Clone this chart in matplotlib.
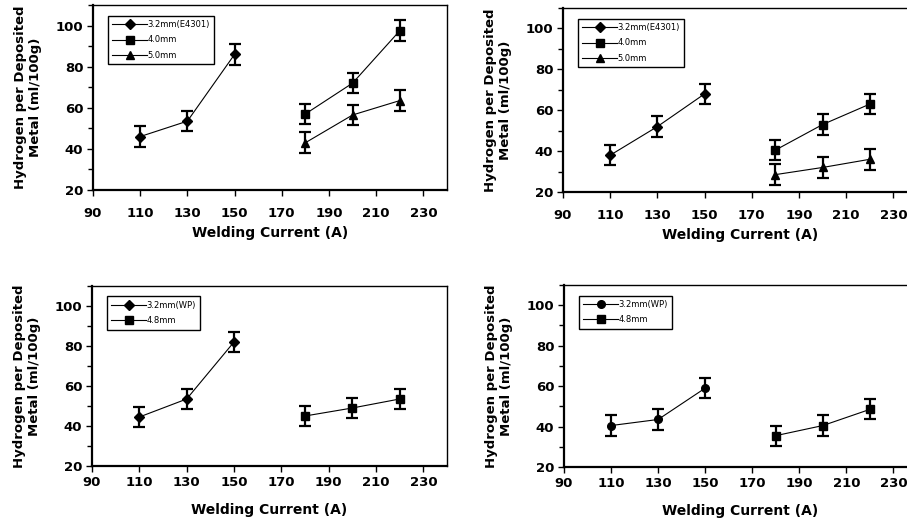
import matplotlib.pyplot as plt
from matplotlib.ticker import MultipleLocator

plt.rcParams['font.family'] = ['DejaVu Sans']

# valores
corriente_a = [110, 130, 150]
corriente_b = [180, 200, 220]
error = 5

tl_32 = [46, 53.5, 86]
tl_40 = [57, 72, 97.5]
tl_50 = [43, 56.5, 63.5]

tr_32 = [38, 52, 68]
tr_40 = [40.5, 53, 63]
tr_50 = [28.5, 32, 36]

bl_32 = [44.5, 53.5, 82]
bl_48 = [45, 49, 53.5]

br_32 = [40.5, 43.5, 59]
br_48 = [35.5, 40.5, 48.5]

x_ticks = [90, 110, 130, 150, 170, 190, 210, 230]
y_ticks = [20, 40, 60, 80, 100]

W, H = 907, 523
fig = plt.figure(figsize=(W / 100, H / 100), dpi=100)


def caja(l, r, t, b):
    return [l / W, 1 - b / H, (r - l) / W, (b - t) / H]


def panel(pos, series, xpad, xlabpad):
    ax = fig.add_axes(caja(*pos))
    for xs, ys, mk, ms, lab in series:
        ax.errorbar(xs, ys, yerr=error, fmt='-', color='black', lw=0.8,
                    marker=mk, ms=ms, elinewidth=1.6, capsize=4.5, capthick=1.6,
                    label=lab)
    ax.set_xlim(90, 240)
    ax.set_ylim(20, 110)
    ax.set_xticks(x_ticks)
    ax.set_yticks(y_ticks)
    ax.yaxis.set_minor_locator(MultipleLocator(10))
    ax.tick_params(axis='both', which='major', labelsize=9.5, direction='out',
                   length=4.5, width=1)
    ax.tick_params(axis='x', which='major', pad=xpad)
    ax.tick_params(axis='y', which='major', pad=2.5)
    ax.tick_params(axis='y', which='minor', direction='out', length=3.5, width=1)
    for lbl in ax.get_xticklabels() + ax.get_yticklabels():
        lbl.set_fontweight('bold')
    ax.set_xlabel('Welding Current (A)', fontsize=10, fontweight='bold',
                  labelpad=xlabpad)
    ax.set_ylabel('Hydrogen per Deposited\nMetal (ml/100g)', fontsize=9.5,
                  fontweight='bold', labelpad=10, linespacing=1.15)
    for s in ['left', 'bottom']:
        ax.spines[s].set_linewidth(1.6)
    for s in ['top', 'right']:
        ax.spines[s].set_linewidth(1.0)
    # leyenda sin barras de error
    handles, labels = ax.get_legend_handles_labels()
    handles = [h[0] for h in handles]
    leg = ax.legend(handles, labels, loc='upper left', fontsize=6,
                    fancybox=False, edgecolor='black', framealpha=1,
                    handlelength=4.2, borderpad=0.55, labelspacing=0.75,
                    handletextpad=0.0, bbox_to_anchor=(0.03, 0.965))
    leg.get_frame().set_linewidth(1.0)
    return ax


panel((93, 447, 5, 190), [
    (corriente_a, tl_32, 'D', 5, '3.2mm(E4301)'),
    (corriente_b, tl_40, 's', 5.5, '4.0mm'),
    (corriente_b, tl_50, '^', 6, '5.0mm'),
], 8, 4)
panel((563, 917, 8, 192), [
    (corriente_a, tr_32, 'D', 5, '3.2mm(E4301)'),
    (corriente_b, tr_40, 's', 5.5, '4.0mm'),
    (corriente_b, tr_50, '^', 6, '5.0mm'),
], 8, 4)
panel((92, 447, 286, 466), [
    (corriente_a, bl_32, 'D', 5, '3.2mm(WP)'),
    (corriente_b, bl_48, 's', 5.5, '4.8mm'),
], 3, 10)
panel((564, 917, 285, 467), [
    (corriente_a, br_32, 'o', 5.5, '3.2mm(WP)'),
    (corriente_b, br_48, 's', 5.5, '4.8mm'),
], 3, 10)

fig.savefig('out.png', dpi=100)
